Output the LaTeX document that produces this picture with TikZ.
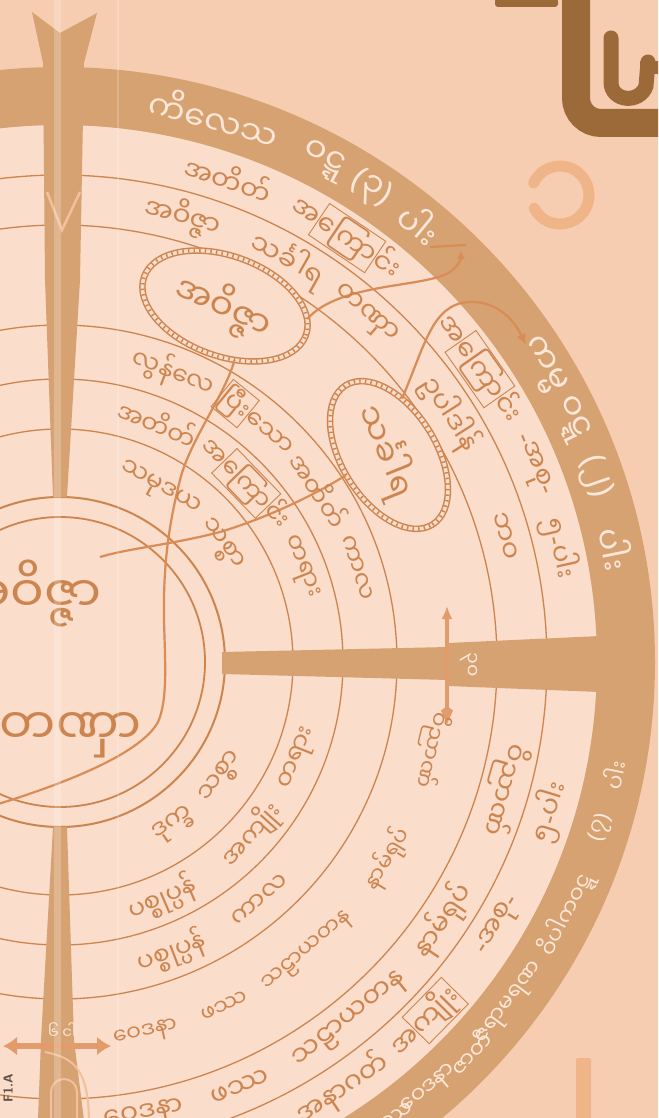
\documentclass[tikz,border=0pt]{standalone}
\usepackage{fontspec}
\usetikzlibrary{arrows.meta,shapes.geometric}
\newfontfamily\mm[Script=Myanmar]{Noto Sans Myanmar UI}
\newfontfamily\lat{Noto Sans}
\newcommand{\LP}{{\lat(}}
\newcommand{\RP}{{\lat)}}
\newcommand{\HY}{{\lat-}}
\definecolor{bgout}{HTML}{F6CDB1}
\definecolor{bgin}{HTML}{FADDCB}
\definecolor{band}{HTML}{D6A272}
\definecolor{ink}{HTML}{CD8550}
\definecolor{bandink}{HTML}{FCE7D8}
\definecolor{connc}{HTML}{D98C55}
\definecolor{salmon}{HTML}{E29C6C}
\definecolor{lite}{HTML}{F1C09C}
\definecolor{titlec}{HTML}{9C6A38}
\definecolor{onec}{HTML}{F0B489}
\definecolor{fgray}{HTML}{5E4F47}
\newcommand{\bxd}[1]{{\setlength{\fboxsep}{0.6pt}\setlength{\fboxrule}{0.9pt}\fbox{#1}}}
\newcommand{\cwt}[5][]{\node[rt,#1] (#2) at (#3:#4pt) [rotate=#3-90] {#5};}
\newcommand{\ccwt}[5][]{\node[rt,#1] (#2) at (#3:#4pt) [rotate=#3+90] {#5};}
\newcommand{\chainov}[5]{%
 \fill[bgin, rotate around={#3:(#1,#2)}] (#1,#2) ellipse (#4pt and #5pt);
 \draw[ink, line width=6.5pt, rotate around={#3:(#1,#2)}] (#1,#2) ellipse (#4pt and #5pt);
 \draw[bgin, line width=3.6pt, rotate around={#3:(#1,#2)}] (#1,#2) ellipse (#4pt and #5pt);
 \draw[ink, line width=3.6pt, dash pattern=on 1.4pt off 4.2pt, rotate around={#3:(#1,#2)}] (#1,#2) ellipse (#4pt and #5pt);}
\begin{document}
\begin{tikzpicture}[x=1pt,y=1pt,
  rt/.style={font=\mm\fontsize{25}{27}\selectfont, text=ink, inner sep=0pt},
  rtb/.style={font=\mm\fontsize{27}{29}\selectfont},
  rtd/.style={font=\mm\fontsize{22}{24}\selectfont},
  bt/.style={font=\mm\fontsize{33}{35}\selectfont, text=bandink, inner sep=0pt},
  bts/.style={font=\mm\fontsize{22}{24}\selectfont, text=bandink, inner sep=0pt},
  ot/.style={font=\mm\fontsize{35}{37}\selectfont, text=ink, inner sep=0pt},
  ct/.style={font=\mm\fontsize{50}{52}\selectfont, text=ink, inner sep=0pt},
  spt/.style={font=\mm\fontsize{19}{20}\selectfont, text=bandink, inner sep=0pt},
  ringl/.style={draw=ink, line width=1.3pt},
  cn/.style={draw=connc, line width=2.2pt}]
\useasboundingbox (0,0) rectangle (658,-1118);
\clip (0,0) rectangle (658,-1118);
\fill[bgout] (0,0) rectangle (658,-1118);
% disc, band and rings
\begin{scope}[shift={(60,-662)}]
 \fill[bgin] (0,0) circle (537pt);
 \fill[band,even odd rule] (0,0) circle (595pt) (0,0) circle (537pt);
 \foreach \r in {487,437,337,283,233} \draw[ringl] (0,0) circle (\r pt);
 \draw[ringl, line width=2pt] (0,0) circle (165pt);
 \draw[ringl, line width=1.8pt] (0,0) circle (145pt);
\end{scope}
% spokes
\fill[band] (32,-12) -- (60,-33) -- (97,-13) -- (84,-63) -- (80,-280) -- (67,-497) -- (53,-497) -- (45,-280) -- (43,-63) -- cycle;
\draw[lite, line width=2.5pt] (47,-192) -- (62,-230) -- (80,-192);
\fill[band] (222,-652) -- (448,-647) -- (448,-643) -- (600,-636) -- (600,-692) -- (448,-686) -- (448,-680) -- (222,-674) -- cycle;
\fill[band] (53,-827) -- (67,-827) -- (74,-1040) -- (84,-1120) -- (38,-1120) -- (41,-1040) -- cycle;
\draw[lite, line width=2pt] (45,-1052) .. controls (75,-1058) and (88,-1070) .. (89,-1120);
\draw[lite, line width=2pt] (51,-1120) -- (51,-1092) arc (180:0:13pt) -- (77,-1120);
% spoke arrows
\draw[salmon, line width=4.5pt, {Latex[length=13pt,width=11pt]}-{Kite[length=18pt,width=12pt]}] (447,-606) -- (447,-724);
\draw[salmon, line width=6pt, {Latex[length=14pt,width=19pt]}-{Latex[length=14pt,width=19pt]}] (3,-1046) -- (111,-1046);
\node[spt, rotate=-90] (sp1) at (469,-665) {၃၀};
\node[spt, font=\mm\fontsize{15}{16}\selectfont] (sp2) at (62,-1031) {၆ ငါ};
% chain ovals
\chainov{225}{-306}{-20}{86}{50}
\chainov{389}{-455}{-58}{82}{47}
\node[ellipse, minimum width=172pt, minimum height=100pt, rotate=-20, inner sep=0pt] (ov1) at (225,-306) {};
\node[ellipse, minimum width=164pt, minimum height=94pt, rotate=-58, inner sep=0pt] (ov2) at (389,-455) {};
\node[ot, rotate=-24] (ov1t) at (223,-307) {အဝိဇ္ဇာ};
\node[ot, rotate=-68, font=\mm\fontsize{33}{35}\selectfont] (ov2t) at (386,-452) {သင်္ခါရ};
% connectors
\draw[cn, -{Latex[length=9pt,width=8pt]}] (ov1.11) .. controls (340,-282) and (425,-288) .. (450,-272) .. controls (458,-266) and (461,-260) .. (461,-250);
\draw[cn] (430,-247) -- (466,-245);
\draw[cn, -{Latex[length=11pt,width=10pt]}] (ov2.135) .. controls (425,-345) and (432,-305) .. (468,-302) .. controls (498,-300) and (515,-322) .. (526,-345);
\draw[cn] (ov1.-60) .. controls (225,-395) and (190,-440) .. (180,-480) .. controls (170,-520) and (163,-560) .. (164,-620) .. controls (165,-660) and (168,-700) .. (158,-722) .. controls (140,-755) and (60,-785) .. (-5,-805);
\draw[cn] (ov2.263) .. controls (320,-492) and (270,-517) .. (220,-532) .. controls (170,-545) and (130,-548) .. (100,-557);
% centre words
\node[ct, anchor=base east] (cav) at (102,-612) {အဝိဇ္ဇာ};
\node[ct, anchor=base east] (ctn) at (142,-744) {တဏှာ};
% ring texts
\begin{scope}[shift={(60,-662)}]
 \cwt[bt]{b1}{74.2}{566}{ကိလေသ}
 \cwt[bt]{b2}{62.3}{566}{ဝဋ္ဋ}
 \cwt[bt]{b3}{56.7}{566}{\LP ၃\RP}
 \cwt[bt]{b4}{50.6}{566}{ပါး}
 \cwt[bt]{b5}{31.5}{566}{ကမ္မ}
 \cwt[bt]{b6}{25.4}{566}{ဝဋ္ဋ}
 \cwt[bt]{b7}{19.1}{566}{\LP ၂\RP}
 \cwt[bt]{b8}{11.5}{566}{ပါး}
 \ccwt[bts]{b9}{-54.2}{566}{ဖဿ}
 \ccwt[bts]{b10}{-49.2}{566}{ဝေဒနာ}
 \ccwt[bts]{b11}{-43.6}{566}{ဇာတိ}
 \ccwt[bts]{b12}{-37.2}{566}{ဇရာမရဏ}
 \ccwt[bts]{b13}{-26.5}{566}{ဝိပါကဝဋ္ဋ}
 \ccwt[bts]{b14}{-17}{566}{\LP ၇\RP}
 \ccwt[bts]{b15}{-11.5}{566}{ပါး}
 % ring 1
 \cwt[rtb]{r1a}{70.8}{512}{အတိတ်}
 \cwt[rtb]{r1b}{56.0}{512}{အ\bxd{ကြော}င်း}
 \cwt[rtb]{r1c}{35.0}{512}{အ\bxd{ကြော}င်း}
 \cwt[rtb]{r1d}{22.6}{512}{\HY အစု\HY}
 \cwt[rtb]{r1e}{12.8}{512}{၅\HY ပါး}
 \ccwt[rtb]{r1f}{-56.5}{512}{အနာဂတ်}
 \ccwt[rtb]{r1g}{-44.5}{512}{အ\bxd{ကျိုး}}
 \ccwt[rtb]{r1h}{-31}{512}{\HY အစု\HY}
 \ccwt[rtb]{r1i}{-17}{512}{၅\HY ပါး}
 % ring 2
 \cwt[rtb]{r2a}{74.6}{462}{အဝိဇ္ဇာ}
 \cwt[rtb]{r2b}{60.5}{462}{သင်္ခါရ}
 \cwt[rtb]{r2c}{48.7}{462}{တဏှာ}
 \cwt[rtb]{r2d}{32.5}{462}{ဥပါဒါန်}
 \cwt[rtb]{r2e}{15.8}{462}{ဘဝ}
 \cwt[rtb]{r2f}{-16}{462}{ဝိညာဏ်}
 \ccwt[rtb]{r2g}{-34}{462}{နာမ်ရုပ်}
 \ccwt[rtb]{r2h}{-51}{462}{သဠာယတန}
 \ccwt[rtb]{r2i}{-67}{462}{ဖဿ}
 \ccwt[rtb]{r2j}{-79.5}{462}{ဝေဒနာ}
 % ring D
 \cwt[rtd]{rda}{-13.3}{382}{ဝိညာဏ်}
 \ccwt[rtd]{rdb}{-31}{382}{နာမ်ရုပ်}
 \ccwt[rtd]{rdc}{-49.5}{382}{သဠာယတန}
 \ccwt[rtd]{rdd}{-64.5}{382}{ဖဿ}
 \ccwt[rtd]{rde}{-77}{382}{ဝေဒနာ}
 % ring C
 \cwt{rca}{68.6}{311}{လွန်လေ}
 \cwt{rcb}{50.8}{311}{\bxd{ပြီး}သော}
 \cwt{rcc}{33.6}{311}{အတိတ်}
 \cwt{rcd}{17.6}{311}{ကာလ}
 \ccwt{rce}{-69}{311}{ပစ္စုပ္ပန်}
 \ccwt{rcf}{-50}{311}{ကာလ}
 % ring B
 \cwt{rba}{67.8}{258}{အတိတ်}
 \cwt{rbb}{44}{258}{အ\bxd{ကြော}င်း}
 \cwt{rbc}{21.5}{258}{တရား}
 \ccwt{rbd}{-66.6}{258}{ပစ္စုပ္ပန်}
 \ccwt{rbe}{-42}{258}{အကျိုး}
 \ccwt{rbf}{-22}{258}{တရား}
 % ring A
 \cwt{raa}{60}{199}{သမုဒယ}
 \cwt{rab}{36}{199}{သစ္စာ}
 \ccwt{rac}{-55}{199}{ဒုက္ခ}
 \ccwt{rad}{-35.5}{199}{သစ္စာ}
\end{scope}
% title fragment top right
\fill[titlec, rounded corners=3pt] (495,2) rectangle (558,-7);
\draw[titlec, line width=28pt] (576,2) -- (576,-98) arc (180:270:25pt) -- (670,-123);
\draw[titlec, line width=15pt, line cap=round] (611,-38) -- (611,-82) .. controls (611,-102) and (640,-104) .. (646,-86) -- (648,-62);
\draw[titlec, line width=13pt] (640,-68) -- (665,-68);
% digit one and bar
\draw[onec, line width=11pt, line cap=round] (560,-195) ++(156:29pt) arc (156:-153:29pt);
\fill[onec, rounded corners=2pt] (576,-1058) rectangle (591,-1125);
% photo fold stripes
\fill[white, opacity=0.22] (54,0) rectangle (61,-1118);
\fill[white, opacity=0.2] (117,0) rectangle (119,-1118);
\node[rotate=90, font=\sffamily\bfseries\fontsize{13}{13}\selectfont, text=fgray, inner sep=0pt] (fla) at (8,-1088) {F1.A};
\end{tikzpicture}
\end{document}
